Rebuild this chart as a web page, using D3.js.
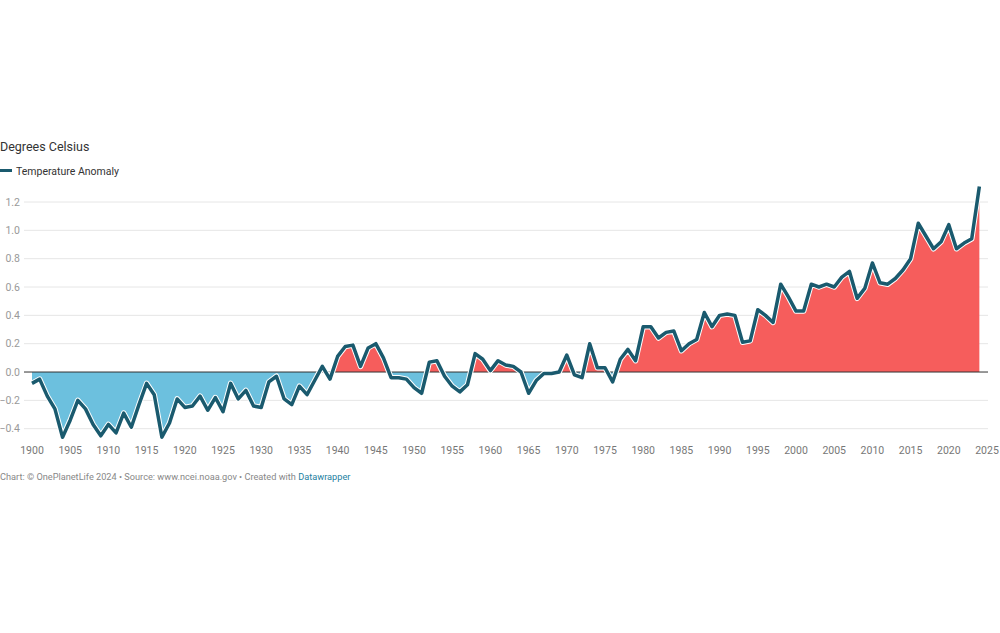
<!DOCTYPE html>
<html>
<head>
<meta charset="utf-8">
<script src="https://cdn.jsdelivr.net/npm/d3@7"></script>
<style>
  body { margin: 0; background: #fff; font-family: Roboto, "Noto Sans", sans-serif; }
  svg { display: block; }
</style>
</head>
<body>
<div id="chart"></div>
<script>
// Global temperature anomaly, degrees Celsius, 1900-2024
const startYear = 1900;
const anomalies = [
  -0.08, -0.05, -0.17, -0.26, -0.46, -0.34, -0.20, -0.26, -0.37, -0.45,
  -0.37, -0.43, -0.29, -0.39, -0.23, -0.08, -0.16, -0.46, -0.36, -0.19,
  -0.25, -0.24, -0.17, -0.27, -0.18, -0.28, -0.08, -0.19, -0.13, -0.24,
  -0.25, -0.07, -0.03, -0.19, -0.23, -0.10, -0.16, -0.06, 0.04, -0.05,
  0.11, 0.18, 0.19, 0.04, 0.17, 0.20, 0.10, -0.04, -0.04, -0.05,
  -0.11, -0.15, 0.07, 0.08, -0.03, -0.10, -0.14, -0.09, 0.13, 0.09,
  0.01, 0.08, 0.05, 0.04, 0.00, -0.15, -0.06, -0.01, -0.01, 0.00,
  0.12, -0.02, -0.04, 0.20, 0.03, 0.03, -0.07, 0.09, 0.16, 0.08,
  0.32, 0.32, 0.24, 0.28, 0.29, 0.15, 0.20, 0.23, 0.42, 0.32,
  0.40, 0.41, 0.40, 0.21, 0.22, 0.44, 0.40, 0.35, 0.62, 0.53,
  0.43, 0.43, 0.62, 0.60, 0.62, 0.60, 0.67, 0.71, 0.52, 0.59,
  0.77, 0.63, 0.62, 0.66, 0.72, 0.80, 1.05, 0.96, 0.87, 0.92,
  1.04, 0.87, 0.91, 0.94, 1.31
];
const years = anomalies.map((_, i) => startYear + i);
const yTicks = [-0.4, -0.2, 0, 0.2, 0.4, 0.6, 0.8, 1.0, 1.2];
const xTicks = d3.range(1900, 2026, 5);

const data = years.map((year, i) => ({ year, value: anomalies[i] }));

const width = 1000, height = 633;
const plot = { left: 24, right: 988, top: 202, bottom: 428.7 };

const svg = d3.select('#chart').append('svg')
  .attr('width', width)
  .attr('height', height);

const x = d3.scaleLinear().domain([1900, 2025]).range([32, 987]);
const y = d3.scaleLinear().domain([-0.4, 1.2]).range([plot.bottom, plot.top]);

// header
svg.append('text')
  .attr('x', 0).attr('y', 151)
  .attr('font-size', 12.5).attr('fill', '#333')
  .text('Degrees Celsius');

svg.append('line')
  .attr('x1', 0).attr('x2', 12)
  .attr('y1', 170.5).attr('y2', 170.5)
  .attr('stroke', '#1a5a6e').attr('stroke-width', 3);
svg.append('text')
  .attr('x', 16).attr('y', 174.5)
  .attr('font-size', 10.5).attr('fill', '#333')
  .text('Temperature Anomaly');

// grid + y labels
const grid = svg.append('g');
grid.selectAll('line').data(yTicks.filter(d => d !== 0)).join('line')
  .attr('x1', plot.left).attr('x2', plot.right)
  .attr('y1', d => y(d)).attr('y2', d => y(d))
  .attr('stroke', '#e6e6e6').attr('stroke-width', 1);
grid.selectAll('text').data(yTicks).join('text')
  .attr('x', 20).attr('y', d => y(d))
  .attr('dy', '0.35em')
  .attr('text-anchor', 'end')
  .attr('font-size', 10.5).attr('fill', '#999')
  .text(d3.format('.1f'));

// areas, split at zero
const defs = svg.append('defs');
defs.append('clipPath').attr('id', 'above')
  .append('rect').attr('x', 0).attr('y', 0).attr('width', width).attr('height', y(0));
defs.append('clipPath').attr('id', 'below')
  .append('rect').attr('x', 0).attr('y', y(0)).attr('width', width).attr('height', height - y(0));

const area = d3.area()
  .x(d => x(d.year))
  .y0(y(0))
  .y1(d => y(d.value));

svg.append('path').datum(data)
  .attr('clip-path', 'url(#above)')
  .attr('fill', '#f65d5c')
  .attr('d', area);
svg.append('path').datum(data)
  .attr('clip-path', 'url(#below)')
  .attr('fill', '#6cc0de')
  .attr('d', area);

// zero line
svg.append('line')
  .attr('x1', plot.left).attr('x2', plot.right)
  .attr('y1', y(0)).attr('y2', y(0))
  .attr('stroke', '#333').attr('stroke-width', 1);

// line with thin white halo
const line = d3.line().x(d => x(d.year)).y(d => y(d.value));
svg.append('path').datum(data)
  .attr('fill', 'none')
  .attr('stroke', '#fff').attr('stroke-width', 5.5)
  .attr('stroke-linejoin', 'round')
  .attr('d', line);
svg.append('path').datum(data)
  .attr('fill', 'none')
  .attr('stroke', '#1a5a6e').attr('stroke-width', 3.5)
  .attr('stroke-linejoin', 'round')
  .attr('d', line);

// x axis labels
svg.append('g').selectAll('text').data(xTicks).join('text')
  .attr('x', d => x(d)).attr('y', 454)
  .attr('text-anchor', 'middle')
  .attr('font-size', 10.5).attr('fill', '#777')
  .text(d => d);

// footer
const footer = svg.append('text')
  .attr('x', 0).attr('y', 480)
  .attr('font-size', 9.2).attr('fill', '#888');
footer.append('tspan').text('Chart: © OnePlanetLife 2024 • Source: www.ncei.noaa.gov • Created with ');
footer.append('tspan').attr('fill', '#1d81a2').text('Datawrapper');
</script>
</body>
</html>
